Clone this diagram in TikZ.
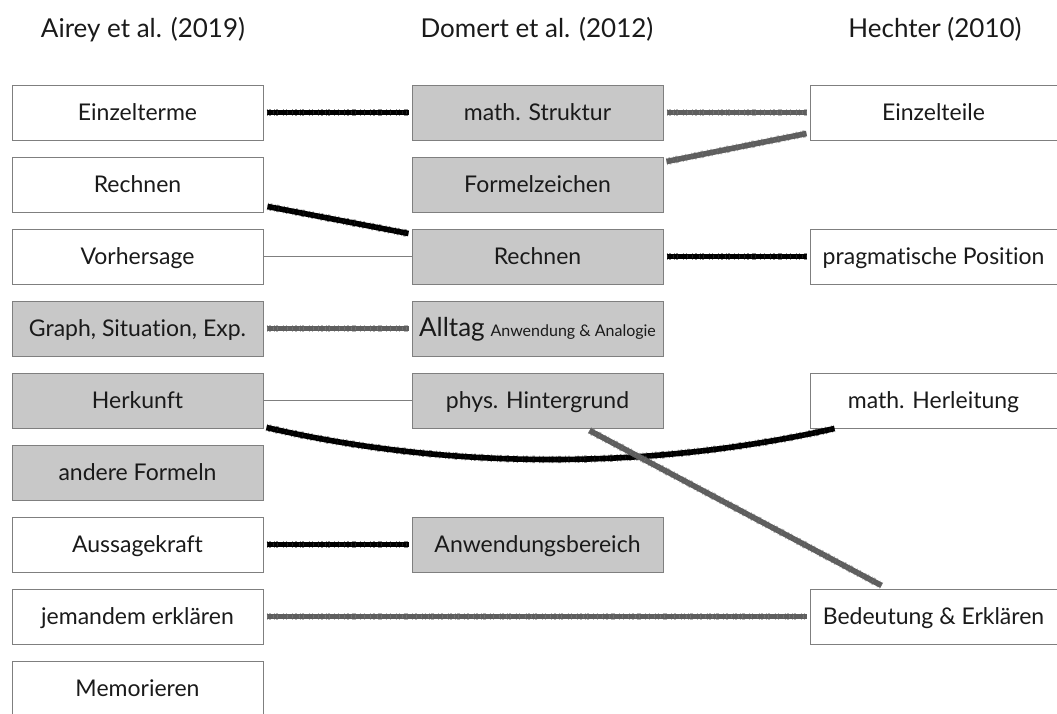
\documentclass[tikz,border=0pt]{standalone}
\usepackage{fontspec}
\setmainfont{Lato}[Ligatures=NoCommon]
\usetikzlibrary{calc}
\definecolor{boxfill}{HTML}{C8C8C8}
\definecolor{boxline}{HTML}{7F7F7F}
\definecolor{inkgray}{HTML}{5E5E5E}
\definecolor{textcol}{HTML}{1A1A1A}
\begin{document}
\begin{tikzpicture}[x=1pt,y=-1pt,
  box/.style={draw=boxline, line width=1pt, fill=white, minimum width=251pt,
    minimum height=55pt, inner sep=0pt, text=textcol,
    text height=15.5pt, text depth=0pt,
    font=\fontsize{23}{26}\selectfont},
  hit/.style={box, fill=boxfill},
  rbox/.style={box, minimum width=247pt},
  head/.style={text=textcol, anchor=base, font=\fontsize{26}{30}\selectfont},
  % a chalky pencil stroke: soft ragged fringe, solid core, a few light specks
  pencil/.style={draw=#1, line width=5.6pt,
    preaction={draw=#1, line width=7.4pt, opacity=0.45,
      dash pattern=on 0.7pt off 1.9pt on 1.8pt off 3.1pt on 0.5pt off 1.2pt on 2.6pt off 4.3pt on 0.9pt off 2.4pt on 1.3pt off 5.2pt},
    postaction={draw=white, opacity=0.12, line width=2.4pt,
      dash pattern=on 0.5pt off 6.3pt on 0.3pt off 3.7pt on 0.6pt off 9.1pt on 0.4pt off 4.9pt}},
  thinlink/.style={draw=boxline, line width=1.7pt},
]
\useasboundingbox (0,0) rectangle (1057,713);
\clip (0,0) rectangle (1057,713);

% column headings
\node[head] (hA) at (143,37) {Airey et al. (2019)};
\node[head] (hD) at (537,37) {Domert et al. (2012)};
\node[head] (hH) at (935,37) {Hechter (2010)};

% Airey et al.
\node[box] (a1) at (137.5,112.5) {Einzelterme};
\node[box] (a2) at (137.5,184.5) {Rechnen};
\node[box] (a3) at (137.5,256.5) {Vorhersage};
\node[hit] (a4) at (137.5,328.5) {Graph, Situation, Exp.};
\node[hit] (a5) at (137.5,400.5) {Herkunft};
\node[hit] (a6) at (137.5,472.5) {andere Formeln};
\node[box] (a7) at (137.5,544.5) {Aussagekraft};
\node[box] (a8) at (137.5,616.5) {jemandem erklären};
\node[box] (a9) at (137.5,688.5) {Memorieren};

% Domert et al.
\node[hit] (d1) at (537.5,112.5) {math. Struktur};
\node[hit] (d2) at (537.5,184.5) {Formelzeichen};
\node[hit] (d3) at (537.5,256.5) {Rechnen};
\node[hit, text height=16.5pt] (d4) at (537.5,328.5) {{\fontsize{26}{28}\selectfont Alltag} {\fontsize{16}{18}\selectfont Anwendung \& Analogie}};
\node[hit] (d5) at (537.5,400.5) {phys. Hintergrund};
\node[hit] (d7) at (537.5,544.5) {Anwendungsbereich};

% Hechter
\node[rbox] (h1) at (933.5,112.5) {Einzelteile};
\node[rbox] (h3) at (933.5,256.5) {pragmatische Position};
\node[rbox] (h5) at (933.5,400.5) {math. Herleitung};
\node[rbox] (h8) at (933.5,616.5) {Bedeutung \& Erklären};

% plain links
\draw[thinlink] (a3.east) -- (d3.west);
\draw[thinlink] (a5.east) -- (d5.west);

% pencil links
\draw[pencil=black] ([xshift=3pt]a1.east) -- ([xshift=-3pt]d1.west);
\draw[pencil=inkgray] ([xshift=3pt]d1.east) -- ([xshift=-3pt]h1.west);
\draw[pencil=inkgray] ($(d2.north east)+(3,5)$) -- ($(h1.south west)+(-3,-7)$);
\draw[pencil=black] ($(a2.south east)+(4,-6)$) -- ($(d3.north west)+(-3,5)$);
\draw[pencil=black] ([xshift=3pt]d3.east) -- ([xshift=-3pt]h3.west);
\draw[pencil=inkgray] ([xshift=3pt]a4.east) -- ([xshift=-3pt]d4.west);
\draw[pencil=black] ($(a5.south east)+(3,-1)$) .. controls (450,470) and (650,470) .. ($(h5.south west)+(25,0)$);
\draw[pencil=inkgray] ($(d5.south)+(52,2)$) -- ($(h8.north west)+(72,-3)$);
\draw[pencil=black] ([xshift=3pt]a7.east) -- ([xshift=-3pt]d7.west);
\draw[pencil=inkgray] ([xshift=3pt]a8.east) -- ([xshift=-3pt]h8.west);
\end{tikzpicture}
\end{document}
